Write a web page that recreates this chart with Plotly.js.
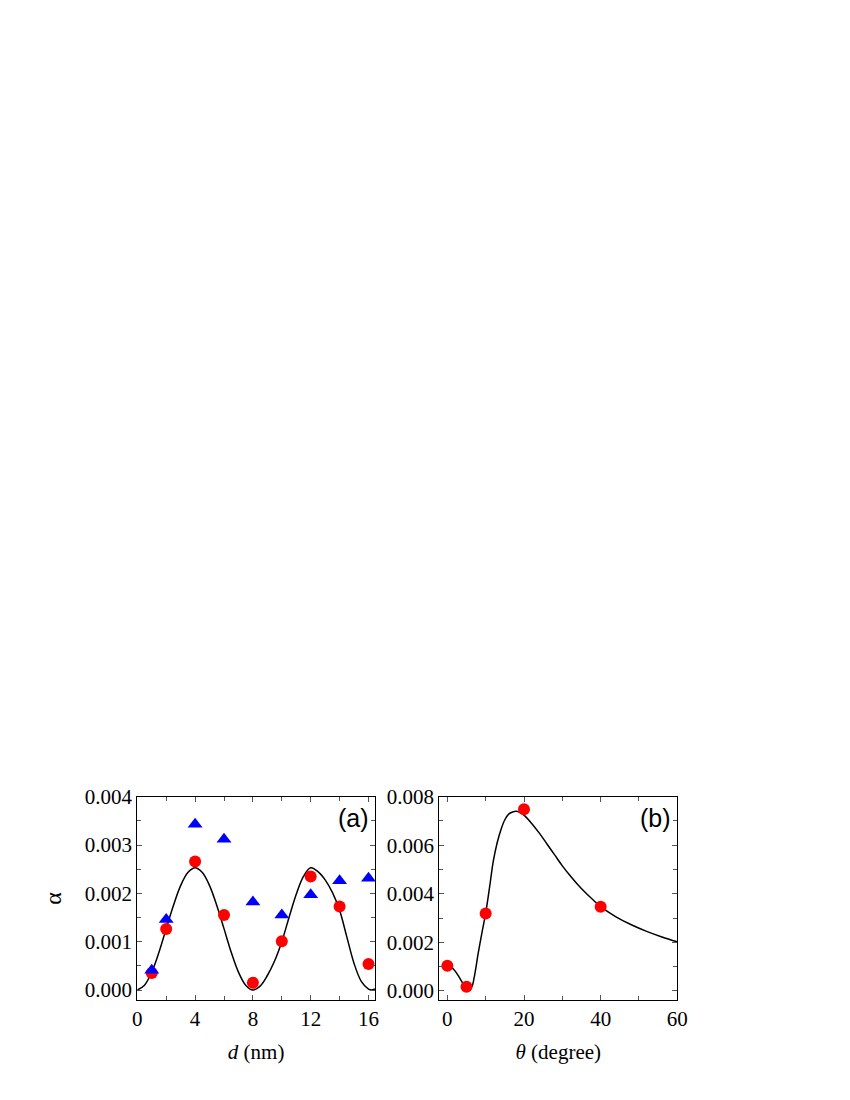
<!DOCTYPE html>
<html>
<head>
<meta charset="utf-8">
<script src="https://cdn.plot.ly/plotly-3.0.1.min.js"></script>
<style>html,body{margin:0;padding:0;background:#fff;}#chart{width:850px;height:1100px;}</style>
</head>
<body>
<div id="chart"></div>
<script>
// Panel (a): alpha vs d (nm)
const dRed = [1, 2, 4, 6, 8, 10, 12, 14, 16];
const alphaRed = [0.00035, 0.00126, 0.00266, 0.00155, 0.00015, 0.00101, 0.00235, 0.00173, 0.00054];
const dBlue = [1, 2, 4, 6, 8, 10, 12, 14, 16];
const alphaBlue = [0.00041, 0.00146, 0.00343, 0.00312, 0.00182, 0.00155, 0.00197, 0.00226, 0.00231];
const dCurve = [0, 0.5, 1, 1.5, 2, 2.5, 3, 3.5, 4, 4.5, 5, 5.5, 6, 6.5, 7, 7.5, 8, 8.5, 9, 9.5, 10, 10.5, 11, 11.5, 12, 12.5, 13, 13.5, 14, 14.5, 15, 15.5, 16, 16.2, 16.45];
const alphaCurve = [0, 0.0001, 0.00037, 0.00078, 0.00127, 0.00175, 0.00216, 0.00243, 0.00253, 0.00243, 0.00216, 0.00175, 0.00127, 0.00078, 0.00037, 0.0001, 0, 0.00008, 0.0003, 0.0006, 0.001, 0.0015, 0.00198, 0.00235, 0.00253, 0.00245, 0.00228, 0.00202, 0.00165, 0.0011, 0.00055, 0.00018, 0.00002, 0, 0.00002];

// Panel (b): alpha vs theta (degree)
const thetaRed = [0, 5, 10, 20, 40];
const alphaThetaRed = [0.00103, 0.000165, 0.00319, 0.00748, 0.00346];
const thetaCurve = [0, 1, 2, 3, 4, 5, 5.5, 6, 6.5, 7, 7.5, 8, 9, 10, 11, 12, 13, 14, 15, 16, 17, 18, 19, 20, 22, 24, 26, 28, 30, 32, 34, 36, 38, 40, 44, 48, 52, 56, 60];
const alphaThetaCurve = [0.00105, 0.00098, 0.00082, 0.00058, 0.00032, 0.00015, 0.0001, 0.0001, 0.0002, 0.00055, 0.001, 0.0015, 0.00237, 0.0032, 0.00425, 0.00535, 0.0061, 0.00665, 0.00705, 0.00728, 0.00737, 0.0074, 0.00735, 0.00724, 0.0069, 0.0065, 0.00605, 0.0056, 0.00515, 0.00475, 0.00438, 0.00405, 0.00375, 0.00347, 0.00305, 0.00272, 0.00245, 0.00222, 0.00202];

const xTicksA = [0, 4, 8, 12, 16];
const yTicksA = ['0.000', '0.001', '0.002', '0.003', '0.004'];
const xTicksB = [0, 20, 40, 60];
const yTicksB = ['0.000', '0.002', '0.004', '0.006', '0.008'];

const serif = 'Liberation Serif';
const sans = 'Liberation Sans';

const traces = [
  {x: dCurve, y: alphaCurve, mode: 'lines', line: {color: '#000', width: 1.5, shape: 'spline', smoothing: 1}, xaxis: 'x', yaxis: 'y', hoverinfo: 'skip'},
  {x: dRed, y: alphaRed, mode: 'markers', marker: {color: '#FF0000', size: 12, symbol: 'circle'}, xaxis: 'x', yaxis: 'y'},
  {x: dBlue, y: alphaBlue, mode: 'markers', marker: {color: '#0000FF', size: 13, symbol: 'triangle-up'}, xaxis: 'x', yaxis: 'y'},
  {x: thetaCurve, y: alphaThetaCurve, mode: 'lines', line: {color: '#000', width: 1.5, shape: 'spline', smoothing: 1}, xaxis: 'x2', yaxis: 'y2', hoverinfo: 'skip'},
  {x: thetaRed, y: alphaThetaRed, mode: 'markers', marker: {color: '#FF0000', size: 12, symbol: 'circle'}, xaxis: 'x2', yaxis: 'y2'}
];

function axisBase() {
  return {
    showline: true, linecolor: '#000', linewidth: 1, mirror: 'ticks',
    ticks: 'inside', ticklen: 5, tickwidth: 1, tickcolor: '#555',
    showgrid: false, zeroline: false,
    tickfont: {family: serif, size: 21, color: '#000'},
    automargin: false
  };
}

const xa = Object.assign(axisBase(), {
  domain: [137.3/850, 375/850], range: [0, 16.45],
  tickvals: xTicksA, ticktext: xTicksA.map(String),
  minor: {dtick: 2, tick0: 0, ticks: 'inside', ticklen: 4, tickcolor: '#555', showgrid: false},
  anchor: 'y',
  title: {text: '<i>d</i> (nm)', font: {family: serif, size: 21, color: '#000'}, standoff: 14}
});
const ya = Object.assign(axisBase(), {
  domain: [1 - 1000/1100, 1 - 796.7/1100], range: [-0.000207, 0.004],
  tickvals: [0, 0.001, 0.002, 0.003, 0.004], ticktext: yTicksA,
  minor: {dtick: 0.0005, tick0: 0, ticks: 'inside', ticklen: 4, tickcolor: '#555', showgrid: false},
  anchor: 'x',
  title: {text: 'α', font: {family: serif, size: 24, color: '#000'}, standoff: 16}
});
const xb = Object.assign(axisBase(), {
  domain: [439.3/850, 677.3/850], range: [-2.1, 60],
  tickvals: xTicksB, ticktext: xTicksB.map(String),
  minor: {dtick: 10, tick0: 0, ticks: 'inside', ticklen: 4, tickcolor: '#555', showgrid: false},
  anchor: 'y2',
  title: {text: '<i>θ</i> (degree)', font: {family: serif, size: 21, color: '#000'}, standoff: 14}
});
const yb = Object.assign(axisBase(), {
  domain: [1 - 1000/1100, 1 - 796.7/1100], range: [-0.00038, 0.008],
  tickvals: [0, 0.002, 0.004, 0.006, 0.008], ticktext: yTicksB,
  minor: {dtick: 0.001, tick0: 0, ticks: 'inside', ticklen: 4, tickcolor: '#555', showgrid: false},
  anchor: 'x2'
});

const layout = {
  width: 850, height: 1100,
  margin: {l: 0, r: 0, t: 0, b: 0},
  paper_bgcolor: '#fff', plot_bgcolor: '#fff',
  showlegend: false,
  font: {family: serif},
  xaxis: xa, yaxis: ya, xaxis2: xb, yaxis2: yb,
  annotations: [
    {xref: 'x', yref: 'y', x: 16.2, y: 0.0039, text: '(a)', showarrow: false, xanchor: 'right', yanchor: 'top', font: {family: sans, size: 25, color: '#000'}},
    {xref: 'x2', yref: 'y2', x: 59, y: 0.0078, text: '(b)', showarrow: false, xanchor: 'right', yanchor: 'top', font: {family: sans, size: 25, color: '#000'}}
  ]
};

Plotly.newPlot('chart', traces, layout, {displayModeBar: false, staticPlot: true});
</script>
</body>
</html>
